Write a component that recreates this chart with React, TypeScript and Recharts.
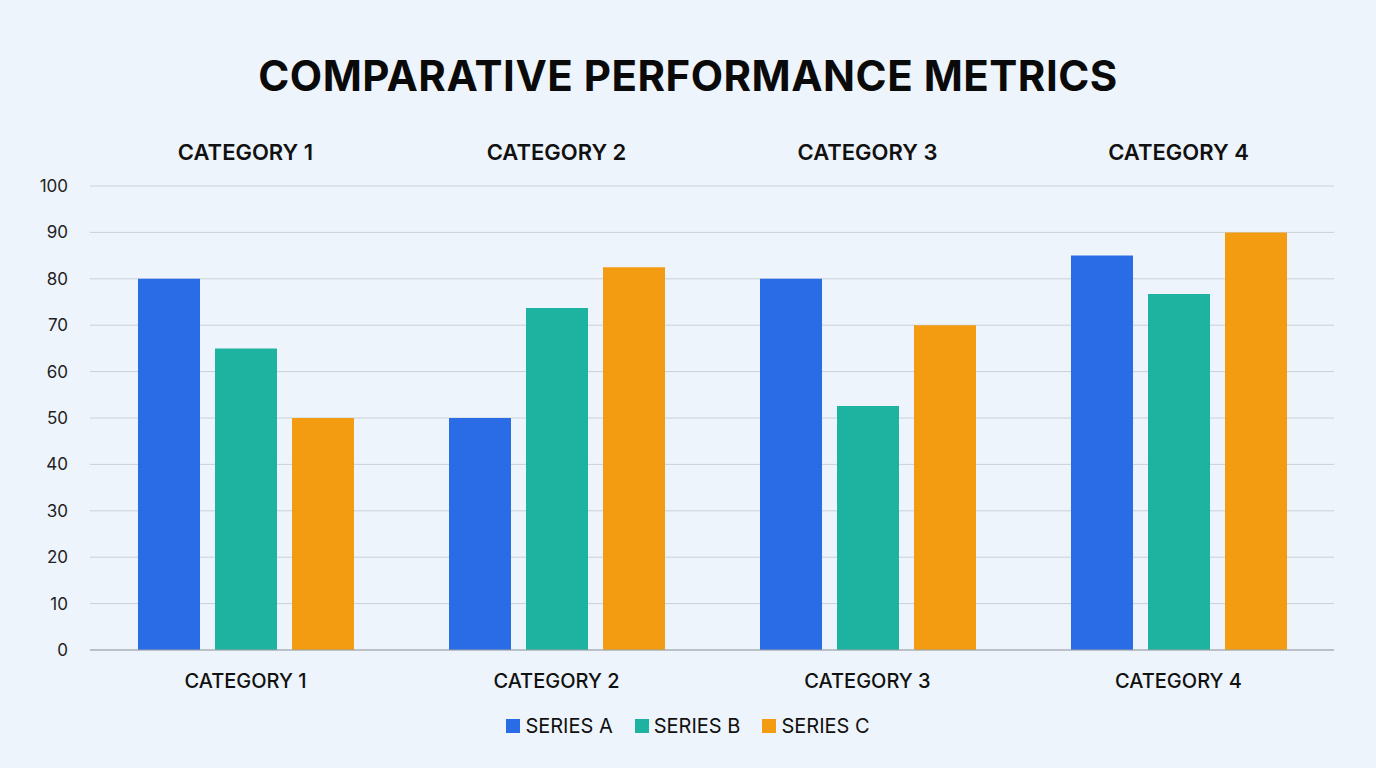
import React from "react";
import { BarChart, Bar, XAxis, YAxis, CartesianGrid } from "recharts";

const categories = ["CATEGORY 1", "CATEGORY 2", "CATEGORY 3", "CATEGORY 4"];
const seriesA = [80, 50, 80, 85];
const seriesB = [65, 73.7, 52.6, 76.7];
const seriesC = [50, 82.5, 70, 90];
const yTicks = [0, 10, 20, 30, 40, 50, 60, 70, 80, 90, 100];
const seriesNames = ["SERIES A", "SERIES B", "SERIES C"];
const colors = ["#2a6ce6", "#1db3a0", "#f39c12"];

const data = categories.map((c, i) => ({ name: c, A: seriesA[i], B: seriesB[i], C: seriesC[i] }));
const FONT = "Inter, 'Open Sans', sans-serif";

export default function App() {
  return (
    <div style={{ position: "absolute", left: 0, top: 0, width: 1376, height: 768, background: "#eef4fb", fontFamily: FONT }}>
      <div style={{ position: "absolute", top: 50, left: 0, width: 1376, textAlign: "center", fontSize: 42, fontWeight: 700, color: "#0a0a0a", letterSpacing: 0.5 }}>
        COMPARATIVE PERFORMANCE METRICS
      </div>
      <BarChart width={1376} height={768} data={data} margin={{ top: 136, right: 42, left: 0, bottom: 58 }} barGap={15} barSize={62} style={{ position: "absolute", left: 0, top: 0 }}>
        <CartesianGrid vertical={false} stroke="#c9d0d8" strokeWidth={1} />
        <XAxis dataKey="name" xAxisId="bottom" height={60} tickLine={false} axisLine={{ stroke: "#9aa0a6" }} tickMargin={18} tick={{ fontSize: 20, fontWeight: 500, fill: "#111", fontFamily: FONT }} />
        <XAxis dataKey="name" xAxisId="top" orientation="top" height={50} tickLine={false} axisLine={false} tickMargin={20} tick={{ fontSize: 22, fontWeight: 600, fill: "#111", fontFamily: FONT }} />
        <YAxis width={90} domain={[0, 100]} ticks={yTicks} tickLine={false} axisLine={false} tickMargin={16} tick={{ fontSize: 17, fill: "#222", fontFamily: FONT }} />
        <Bar xAxisId="bottom" dataKey="A" fill={colors[0]} isAnimationActive={false} />
        <Bar xAxisId="bottom" dataKey="B" fill={colors[1]} isAnimationActive={false} />
        <Bar xAxisId="bottom" dataKey="C" fill={colors[2]} isAnimationActive={false} />
      </BarChart>
      <div style={{ position: "absolute", top: 714, left: 0, width: 1376, display: "flex", justifyContent: "center", gap: 22, fontSize: 20, color: "#111" }}>
        {seriesNames.map((n, i) => (
          <div key={n} style={{ display: "flex", alignItems: "center", gap: 5 }}>
            <span style={{ width: 14, height: 14, background: colors[i], display: "inline-block" }} />
            <span>{n}</span>
          </div>
        ))}
      </div>
    </div>
  );
}
